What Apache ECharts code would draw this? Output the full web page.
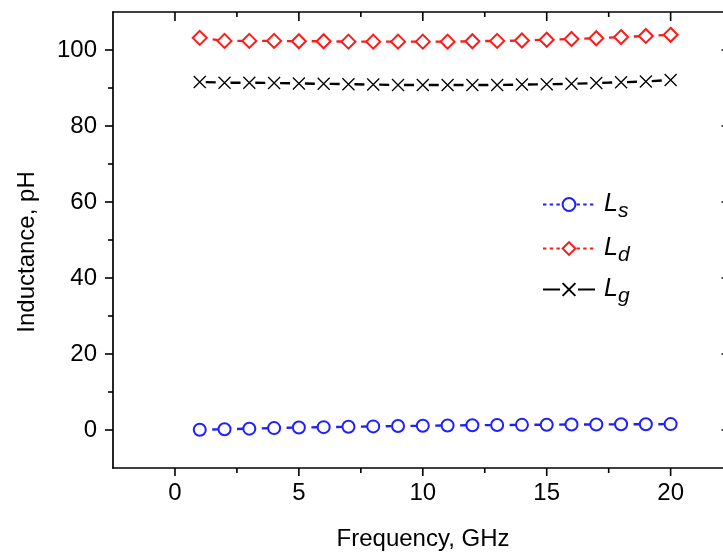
<!DOCTYPE html>
<html>
<head>
<meta charset="utf-8">
<script src="https://cdn.jsdelivr.net/npm/echarts@6/dist/echarts.min.js"></script>
<style>
  html, body { margin: 0; padding: 0; background: #fff; overflow: hidden; width: 723px; height: 556px; }
  #chart { width: 745px; height: 556px; }
</style>
</head>
<body>
<div id="chart"></div>
<script>
// Measured inductances versus frequency
const frequency = [1, 2, 3, 4, 5, 6, 7, 8, 9, 10, 11, 12, 13, 14, 15, 16, 17, 18, 19, 20];
const ls = [0.05, 0.2, 0.35, 0.5, 0.65, 0.75, 0.85, 0.95, 1.05, 1.1, 1.2, 1.25, 1.3, 1.35, 1.4, 1.45, 1.45, 1.5, 1.5, 1.55];
const ld = [103.2, 102.4, 102.4, 102.4, 102.3, 102.3, 102.2, 102.2, 102.2, 102.2, 102.2, 102.3, 102.4, 102.5, 102.7, 102.9, 103.1, 103.4, 103.7, 104.0];
const lg = [91.6, 91.4, 91.4, 91.3, 91.2, 91.1, 91.0, 90.9, 90.8, 90.8, 90.8, 90.8, 90.8, 90.9, 91.0, 91.1, 91.3, 91.5, 91.7, 92.1];

const xMajorTicks = [0, 5, 10, 15, 20];
const xMinorTicks = [2.5, 7.5, 12.5, 17.5];
const yMajorTicks = [0, 20, 40, 60, 80, 100];
const yMinorTicks = [10, 30, 50, 70, 90];

const FONT = '"Liberation Sans", Arial, Helvetica, sans-serif';
const X_MIN = -2.5, X_MAX = 22.5, Y_MIN = -10, Y_MAX = 110;
// the frame's right edge runs just past the visible page
const GRID = { left: 113, top: 12, width: 619.6, height: 456 };
// one dash period per point step, so each gap between symbols holds a single stroke
const STEP = GRID.width / (X_MAX - X_MIN);

const pairs = vals => frequency.map((f, i) => [f, vals[i]]);
function lineOpt(show) {
  return { show, onZero: false, lineStyle: { color: '#000', width: 1.7 } };
}

// frequency tick marks: [value, edge value, length]; all hang downward
// (outward below the bottom edge, inward below the top edge)
const xTickMarks = []
  .concat(xMajorTicks.map(v => [v, Y_MIN, 8]), xMinorTicks.map(v => [v, Y_MIN, 5]))
  .concat(xMajorTicks.map(v => [v, Y_MAX, 9]), xMinorTicks.map(v => [v, Y_MAX, 5]));

function xAxis(position, labels) {
  return {
    type: 'value', gridIndex: 0, position, min: X_MIN, max: X_MAX,
    axisLine: lineOpt(true),
    axisTick: { show: false },
    axisLabel: labels
      ? { show: true, customValues: xMajorTicks, fontSize: 24, fontFamily: FONT, color: '#000', margin: 13 }
      : { show: false },
    splitLine: { show: false }
  };
}
// grid 0 carries the frame, major ticks and labels; grid 1 (same rectangle) the minor ticks
function yAxis(gridIndex, position, ticks, len, inside, labels, showLine) {
  return {
    type: 'value', gridIndex, position, min: Y_MIN, max: Y_MAX,
    axisLine: lineOpt(showLine),
    axisTick: { show: true, customValues: ticks, length: len, inside, lineStyle: { color: '#000', width: 1.6 } },
    axisLabel: labels
      ? { show: true, customValues: ticks, fontSize: 24, fontFamily: FONT, color: '#000', margin: 16 }
      : { show: false },
    splitLine: { show: false }
  };
}

const rich = {
  l: { fontSize: 25, fontStyle: 'italic', fontFamily: FONT, color: '#000', lineHeight: 28, padding: [0, 0, 0, 4] },
  s: { fontSize: 21, fontStyle: 'italic', fontFamily: FONT, color: '#000', lineHeight: 28, padding: [14, 0, 0, 0] }
};
function legendFor(name, top, lineStyle) {
  return {
    orient: 'vertical', left: 537, top,
    itemWidth: 52, itemHeight: 16,
    data: [{ name, lineStyle }],
    lineStyle,
    formatter: n => '{l|' + n.charAt(0) + '}{s|' + n.slice(1) + '}',
    textStyle: { rich },
    selectedMode: false
  };
}

const gridRect = { left: GRID.left, top: GRID.top, width: GRID.width, height: GRID.height, containLabel: false };

const chart = echarts.init(document.getElementById('chart'), null, { renderer: 'canvas' });
chart.setOption({
  backgroundColor: '#fff',
  animation: false,
  grid: [Object.assign({}, gridRect), Object.assign({}, gridRect)],
  xAxis: [
    xAxis('bottom', true),
    xAxis('top', false),
    { type: 'value', gridIndex: 1, min: X_MIN, max: X_MAX, show: false }
  ],
  yAxis: [
    yAxis(0, 'left', yMajorTicks, 8, false, true, true),
    yAxis(0, 'right', yMajorTicks, 11, true, false, true),
    yAxis(1, 'left', yMinorTicks, 5, false, false, false),
    yAxis(1, 'right', yMinorTicks, 6, true, false, false)
  ],
  legend: [
    legendFor('Ls', 182, { type: [3.4, 3.3], dashOffset: 0, width: 2 }),
    legendFor('Ld', 226, { type: [3.4, 3.3], dashOffset: 0, width: 2 }),
    legendFor('Lg', 267, { type: [17, 18], dashOffset: 0, width: 2 })
  ],
  series: [
    {
      name: 'Ls', type: 'line', xAxisIndex: 0, yAxisIndex: 0, data: pairs(ls),
      symbol: 'emptyCircle', symbolSize: 12,
      itemStyle: { color: '#1f1fff', borderColor: '#1f1fff', borderWidth: 1.5 },
      lineStyle: { color: '#1f1fff', width: 2.4, type: [6, STEP - 6], dashOffset: STEP - 12.5 },
      z: 3
    },
    {
      name: 'Ld', type: 'line', xAxisIndex: 0, yAxisIndex: 0, data: pairs(ld),
      symbol: 'emptyDiamond', symbolSize: 14,
      itemStyle: { color: '#ff1a1a', borderColor: '#ff1a1a', borderWidth: 1.5 },
      lineStyle: { color: '#ff1a1a', width: 2.4, type: [6, STEP - 6], dashOffset: STEP - 13 },
      z: 3
    },
    {
      name: 'Lg', type: 'line', xAxisIndex: 0, yAxisIndex: 0, data: pairs(lg),
      symbol: 'path://M0,0L10,10M10,0L0,10', symbolSize: 12,
      itemStyle: { color: '#000', borderColor: '#000', borderWidth: 1.3 },
      lineStyle: { color: '#000', width: 2.4, type: [10, STEP - 10], dashOffset: STEP - 6 },
      z: 3
    }
  ],
  graphic: [
    {
      type: 'text', x: 27, y: 252, rotation: Math.PI / 2,
      style: { text: 'Inductance, pH', fontSize: 24, fontFamily: FONT, fill: '#000', align: 'center', verticalAlign: 'middle' }
    },
    {
      type: 'text', x: 423, y: 539,
      style: { text: 'Frequency, GHz', fontSize: 24, fontFamily: FONT, fill: '#000', align: 'center', verticalAlign: 'middle' }
    }
  ]
});

// Frequency ticks on the top and bottom edges, placed through the x/y scales of grid 0
// and drawn on their own canvas layer above the chart.
const tickGroup = new echarts.graphic.Group({ zlevel: 1 });
xTickMarks.forEach(([v, edge, len]) => {
  const p = chart.convertToPixel({ xAxisIndex: 0, yAxisIndex: 0 }, [v, edge]);
  tickGroup.add(new echarts.graphic.Rect({
    shape: { x: p[0] - 0.8, y: p[1], width: 1.6, height: len },
    style: { fill: '#000' },
    zlevel: 1,
    silent: true
  }));
});
chart.getZr().add(tickGroup);
</script>
</body>
</html>
